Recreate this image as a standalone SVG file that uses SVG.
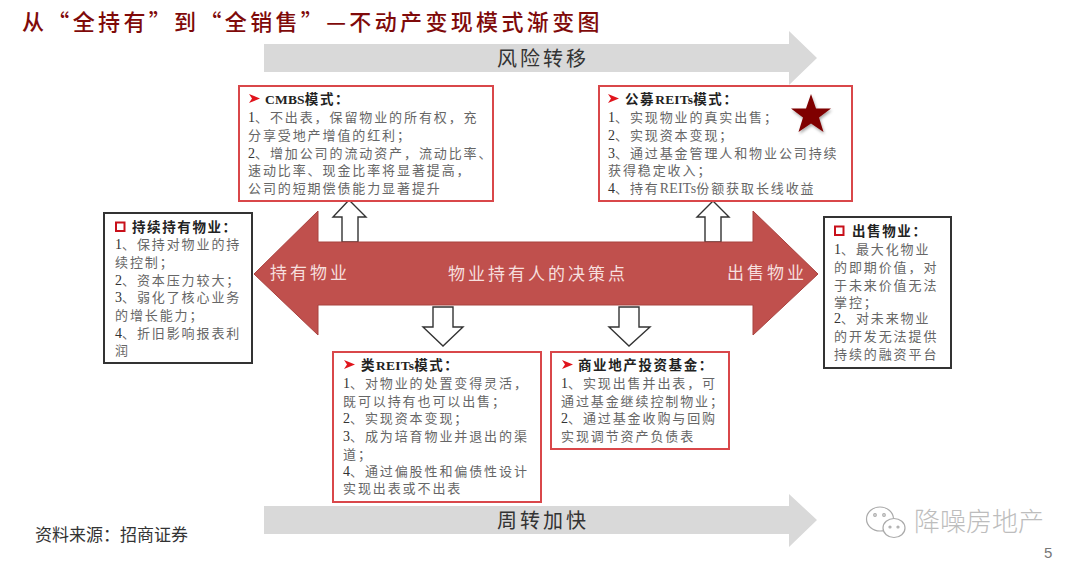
<svg xmlns="http://www.w3.org/2000/svg" width="1080" height="568" viewBox="0 0 1080 568">
<style>
text{font-family:"Liberation Serif","Noto Sans CJK SC",serif}
.title{font-size:22px;font-weight:500;fill:#7f0a0a;letter-spacing:3.35px;font-family:"Noto Sans CJK SC",sans-serif}
.band{font-size:20px;fill:#333;letter-spacing:3px;text-anchor:middle}
.box{fill:#fff;stroke:#d9474a;stroke-width:2}
.bbox{fill:#fff;stroke:#333;stroke-width:2}
.h{font-size:13.5px;font-weight:700;fill:#222;letter-spacing:1.6px}
.b{font-size:13px;fill:#666;letter-spacing:1.9px}
.l{letter-spacing:0.2px}
.n{fill:#333;font-size:14px;letter-spacing:0}
.w{font-size:17px;fill:#f6dfde;letter-spacing:3px}
.hollow{fill:#fff;stroke:#333;stroke-width:1.4}
.grey{fill:#d9d9d9}
</style>
<defs>
<path id="tick" d="M0 0L11 4.5L0 9L3 4.5Z" fill="#e0141c"/>
<filter id="sh" x="-30%" y="-30%" width="160%" height="160%"><feDropShadow dx="1" dy="2" stdDeviation="1.5" flood-color="#000" flood-opacity="0.35"/></filter>
</defs>
<text class="title" x="22" y="30">从“全持有”到“全销售”—不动产变现模式渐变图</text>
<g id="risk-arrow"><path class="grey" d="M264 44H789V31L817 58L789 85V72H264Z"/><text class="band" x="543" y="66">风险转移</text></g>
<g id="turnover-arrow"><path class="grey" d="M264 506H789V494L817 520L789 547V534H264Z"/><text class="band" x="543" y="528">周转加快</text></g>
<g id="connectors">
<path class="hollow" d="M342 242V217H333L349 200L366 217H358V242Z"/>
<path class="hollow" d="M705 242V217H697L713 201L729 217H721V242Z"/>
<path class="hollow" d="M433 307H453V327H463L443 346L423 327H433Z"/>
<path class="hollow" d="M619 307H639V327H650L629 346L609 327H619Z"/>
</g>
<g id="decision-arrow">
<path d="M254 274L318 211V242H753V211L818 274L753 335V305H318V335Z" fill="#c0504d" stroke="#a8423f" stroke-width="1"/>
<text class="w" x="270" y="279">持有物业</text>
<text class="w" x="448" y="280">物业持有人的决策点</text>
<text class="w" x="727" y="279">出售物业</text>
</g>
<g id="cmbs">
<rect class="box" x="239" y="86" width="254" height="115"/>
<use href="#tick" x="249" y="94"/>
<text class="h" x="265" y="104"><tspan class="l">CMBS</tspan>模式：</text>
<text class="b" x="248" y="122"><tspan class="n">1</tspan>、不出表，保留物业的所有权，充</text>
<text class="b" x="248" y="140">分享受地产增值的红利；</text>
<text class="b" x="248" y="158"><tspan class="n">2</tspan>、增加公司的流动资产，流动比率、</text>
<text class="b" x="248" y="175">速动比率、现金比率将显著提高，</text>
<text class="b" x="248" y="193">公司的短期偿债能力显著提升</text>
</g>
<g id="public-reits">
<rect class="box" x="599" y="86" width="253" height="115"/>
<use href="#tick" x="608" y="94"/>
<text class="h" x="625" y="104">公募<tspan class="l">REITs</tspan>模式：</text>
<text class="b" x="608" y="122"><tspan class="n">1</tspan>、实现物业的真实出售；</text>
<text class="b" x="608" y="140"><tspan class="n">2</tspan>、实现资本变现；</text>
<text class="b" x="608" y="158"><tspan class="n">3</tspan>、通过基金管理人和物业公司持续</text>
<text class="b" x="608" y="175">获得稳定收入；</text>
<text class="b" x="608" y="193"><tspan class="n">4</tspan>、持有<tspan class="l" font-size="14">REITs</tspan>份额获取长线收益</text>
<path d="M811 94L816 108.500L831 108.500L819 117.500L823.500 132L811 123.500L798.500 132L803 117.500L791 108.500L806 108.500Z" fill="#7f0000" filter="url(#sh)"/>
</g>
<g id="hold">
<rect class="bbox" x="104" y="213" width="148" height="150"/>
<rect x="116" y="222.500" width="8.500" height="8.500" fill="#fff" stroke="#c8101a" stroke-width="2"/>
<text class="h" x="132" y="232">持续持有物业：</text>
<text class="b" x="115" y="249"><tspan class="n">1</tspan>、保持对物业的持</text>
<text class="b" x="115" y="267">续控制；</text>
<text class="b" x="115" y="285"><tspan class="n">2</tspan>、资本压力较大；</text>
<text class="b" x="115" y="302"><tspan class="n">3</tspan>、弱化了核心业务</text>
<text class="b" x="115" y="320">的增长能力；</text>
<text class="b" x="115" y="338"><tspan class="n">4</tspan>、折旧影响报表利</text>
<text class="b" x="115" y="355">润</text>
</g>
<g id="sell">
<rect class="bbox" x="824" y="217" width="127" height="151"/>
<rect x="835" y="226.500" width="8.500" height="8.500" fill="#fff" stroke="#c8101a" stroke-width="2"/>
<text class="h" x="852" y="236">出售物业：</text>
<text class="b" x="834" y="254"><tspan class="n">1</tspan>、最大化物业</text>
<text class="b" x="834" y="272">的即期价值，对</text>
<text class="b" x="834" y="290">于未来价值无法</text>
<text class="b" x="834" y="307">掌控；</text>
<text class="b" x="834" y="323"><tspan class="n">2</tspan>、对未来物业</text>
<text class="b" x="834" y="341">的开发无法提供</text>
<text class="b" x="834" y="359">持续的融资平台</text>
</g>
<g id="quasi-reits">
<rect class="box" x="333" y="352" width="208" height="150"/>
<use href="#tick" x="344" y="360"/>
<text class="h" x="361" y="370">类<tspan class="l">REITs</tspan>模式：</text>
<text class="b" x="343" y="388"><tspan class="n">1</tspan>、对物业的处置变得灵活，</text>
<text class="b" x="343" y="406">既可以持有也可以出售；</text>
<text class="b" x="343" y="423"><tspan class="n">2</tspan>、实现资本变现；</text>
<text class="b" x="343" y="441"><tspan class="n">3</tspan>、成为培育物业并退出的渠</text>
<text class="b" x="343" y="459">道；</text>
<text class="b" x="343" y="476"><tspan class="n">4</tspan>、通过偏股性和偏债性设计</text>
<text class="b" x="343" y="493">实现出表或不出表</text>
</g>
<g id="fund">
<rect class="box" x="551" y="352" width="178" height="97"/>
<use href="#tick" x="562" y="360"/>
<text class="h" x="578" y="370">商业地产投资基金：</text>
<text class="b" x="561" y="388"><tspan class="n">1</tspan>、实现出售并出表，可</text>
<text class="b" x="561" y="406">通过基金继续控制物业；</text>
<text class="b" x="561" y="423"><tspan class="n">2</tspan>、通过基金收购与回购</text>
<text class="b" x="561" y="441">实现调节资产负债表</text>
</g>
<text x="35" y="541" font-size="17" fill="#333">资料来源：招商证券</text>
<g id="watermark" fill="#fff" stroke="#aaa" stroke-width="1.2">
<ellipse cx="880" cy="519" rx="13.500" ry="12"/>
<ellipse cx="894" cy="528" rx="11" ry="9.500"/>
<circle cx="875" cy="515" r="1.300"/><circle cx="884" cy="515" r="1.300"/>
<circle cx="890" cy="527" r="1"/><circle cx="898" cy="527" r="1"/>
</g>
<text x="914" y="531" font-size="26" fill="#bdbdbd" style="font-family:'Noto Sans CJK SC',sans-serif;font-weight:300">降噪房地产</text>
<text x="1044" y="558" font-size="15" fill="#777" style="font-family:'Liberation Sans',sans-serif">5</text>
</svg>
